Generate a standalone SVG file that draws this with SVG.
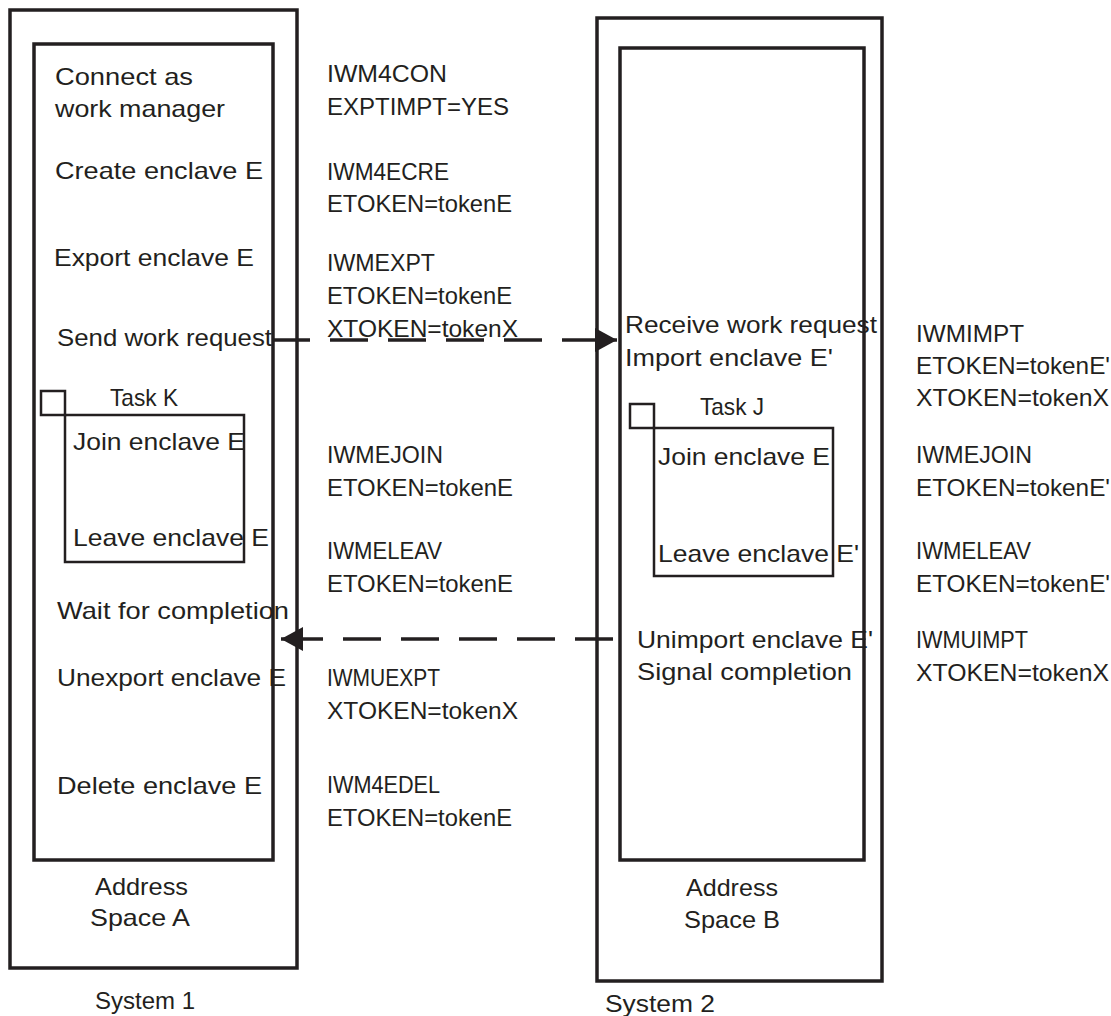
<svg xmlns="http://www.w3.org/2000/svg" width="1111" height="1016" viewBox="0 0 1111 1016">
<style>
.box{fill:none;stroke:#231f20;stroke-width:3.5}
.task{fill:none;stroke:#231f20;stroke-width:2.5}
.t{font-family:"Liberation Sans",Arial,sans-serif;font-size:24px;fill:#231f20}
.conn{stroke:#231f20;stroke-width:3.5;fill:none;stroke-dasharray:38 20}
</style>
<defs>
<marker id="ah" viewBox="0 0 22 24" refX="22" refY="12" markerWidth="22" markerHeight="24" markerUnits="userSpaceOnUse" orient="auto">
<path d="M0,0 L22,12 L0,24 Z" fill="#231f20"/>
</marker>
</defs>
<rect width="1111" height="1016" fill="#fff"/>

<g id="system1">
<rect class="box" x="10" y="10" width="287" height="958"/>
<text class="t" x="95" y="1009">System 1</text>
</g>
<g id="addressSpaceA">
<rect class="box" x="34" y="44" width="239" height="816"/>
<text class="t" x="95" y="895" textLength="93" lengthAdjust="spacingAndGlyphs">Address</text>
<text class="t" x="90" y="926" textLength="100" lengthAdjust="spacingAndGlyphs">Space A</text>
<text class="t" x="55" y="85" textLength="138" lengthAdjust="spacingAndGlyphs">Connect as</text>
<text class="t" x="55" y="117" textLength="170" lengthAdjust="spacingAndGlyphs">work manager</text>
<text class="t" x="55" y="179" textLength="208" lengthAdjust="spacingAndGlyphs">Create enclave E</text>
<text class="t" x="54" y="266" textLength="200" lengthAdjust="spacingAndGlyphs">Export enclave E</text>
<text class="t" x="57" y="346" textLength="215" lengthAdjust="spacingAndGlyphs">Send work request</text>
<text class="t" x="57" y="619" textLength="232" lengthAdjust="spacingAndGlyphs">Wait for completion</text>
<text class="t" x="57" y="686" textLength="229" lengthAdjust="spacingAndGlyphs">Unexport enclave E</text>
<text class="t" x="57" y="794" textLength="205" lengthAdjust="spacingAndGlyphs">Delete enclave E</text>
</g>
<g id="taskK">
<rect class="task" x="41" y="391" width="24" height="24"/>
<rect class="task" x="65" y="415" width="179" height="147"/>
<text class="t" x="110" y="406" textLength="68" lengthAdjust="spacingAndGlyphs">Task K</text>
<text class="t" x="73" y="450" textLength="172" lengthAdjust="spacingAndGlyphs">Join enclave E</text>
<text class="t" x="73" y="546" textLength="196" lengthAdjust="spacingAndGlyphs">Leave enclave E</text>
</g>
<g id="macrosA">
<text class="t" x="327" y="82" textLength="120" lengthAdjust="spacingAndGlyphs">IWM4CON</text>
<text class="t" x="327" y="115" textLength="182" lengthAdjust="spacingAndGlyphs">EXPTIMPT=YES</text>
<text class="t" x="327" y="180" textLength="122" lengthAdjust="spacingAndGlyphs">IWM4ECRE</text>
<text class="t" x="327" y="212" textLength="185" lengthAdjust="spacingAndGlyphs">ETOKEN=tokenE</text>
<text class="t" x="327" y="271" textLength="108" lengthAdjust="spacingAndGlyphs">IWMEXPT</text>
<text class="t" x="327" y="304" textLength="185" lengthAdjust="spacingAndGlyphs">ETOKEN=tokenE</text>
<text class="t" x="327" y="337" textLength="191" lengthAdjust="spacingAndGlyphs">XTOKEN=tokenX</text>
<text class="t" x="327" y="463" textLength="116" lengthAdjust="spacingAndGlyphs">IWMEJOIN</text>
<text class="t" x="327" y="496" textLength="186" lengthAdjust="spacingAndGlyphs">ETOKEN=tokenE</text>
<text class="t" x="327" y="559" textLength="115" lengthAdjust="spacingAndGlyphs">IWMELEAV</text>
<text class="t" x="327" y="592" textLength="186" lengthAdjust="spacingAndGlyphs">ETOKEN=tokenE</text>
<text class="t" x="327" y="686" textLength="113" lengthAdjust="spacingAndGlyphs">IWMUEXPT</text>
<text class="t" x="327" y="719" textLength="191" lengthAdjust="spacingAndGlyphs">XTOKEN=tokenX</text>
<text class="t" x="327" y="793" textLength="113" lengthAdjust="spacingAndGlyphs">IWM4EDEL</text>
<text class="t" x="327" y="826" textLength="185" lengthAdjust="spacingAndGlyphs">ETOKEN=tokenE</text>
</g>

<g id="system2">
<rect class="box" x="597" y="18" width="285" height="963"/>
<text class="t" x="605" y="1012" textLength="110" lengthAdjust="spacingAndGlyphs">System 2</text>
</g>
<g id="addressSpaceB">
<rect class="box" x="620" y="48" width="244" height="812"/>
<text class="t" x="686" y="896" textLength="92" lengthAdjust="spacingAndGlyphs">Address</text>
<text class="t" x="684" y="928" textLength="96" lengthAdjust="spacingAndGlyphs">Space B</text>
<text class="t" x="625" y="333" textLength="252" lengthAdjust="spacingAndGlyphs">Receive work request</text>
<text class="t" x="625" y="366" textLength="208" lengthAdjust="spacingAndGlyphs">Import enclave E'</text>
<text class="t" x="637" y="648" textLength="236" lengthAdjust="spacingAndGlyphs">Unimport enclave E'</text>
<text class="t" x="637" y="680" textLength="215" lengthAdjust="spacingAndGlyphs">Signal completion</text>
</g>
<g id="taskJ">
<rect class="task" x="630" y="404" width="24" height="24"/>
<rect class="task" x="654" y="428" width="179" height="148"/>
<text class="t" x="700" y="415" textLength="64" lengthAdjust="spacingAndGlyphs">Task J</text>
<text class="t" x="658" y="465" textLength="172" lengthAdjust="spacingAndGlyphs">Join enclave E</text>
<text class="t" x="658" y="562" textLength="201" lengthAdjust="spacingAndGlyphs">Leave enclave E'</text>
</g>
<g id="macrosB">
<text class="t" x="916" y="342" textLength="108" lengthAdjust="spacingAndGlyphs">IWMIMPT</text>
<text class="t" x="916" y="374" textLength="194" lengthAdjust="spacingAndGlyphs">ETOKEN=tokenE'</text>
<text class="t" x="916" y="406" textLength="193" lengthAdjust="spacingAndGlyphs">XTOKEN=tokenX</text>
<text class="t" x="916" y="463" textLength="116" lengthAdjust="spacingAndGlyphs">IWMEJOIN</text>
<text class="t" x="916" y="496" textLength="194" lengthAdjust="spacingAndGlyphs">ETOKEN=tokenE'</text>
<text class="t" x="916" y="559" textLength="115" lengthAdjust="spacingAndGlyphs">IWMELEAV</text>
<text class="t" x="916" y="592" textLength="194" lengthAdjust="spacingAndGlyphs">ETOKEN=tokenE'</text>
<text class="t" x="916" y="648" textLength="112" lengthAdjust="spacingAndGlyphs">IWMUIMPT</text>
<text class="t" x="916" y="681" textLength="193" lengthAdjust="spacingAndGlyphs">XTOKEN=tokenX</text>
</g>

<g id="connectors">
<path class="conn" d="M272,340 H596"/>
<path d="M596,340 H617" stroke="#231f20" stroke-width="3.5" marker-end="url(#ah)"/>
<path class="conn" d="M613,639 H302"/>
<path d="M302,639 H281" stroke="#231f20" stroke-width="3.5" marker-end="url(#ah)"/>
</g>
</svg>
